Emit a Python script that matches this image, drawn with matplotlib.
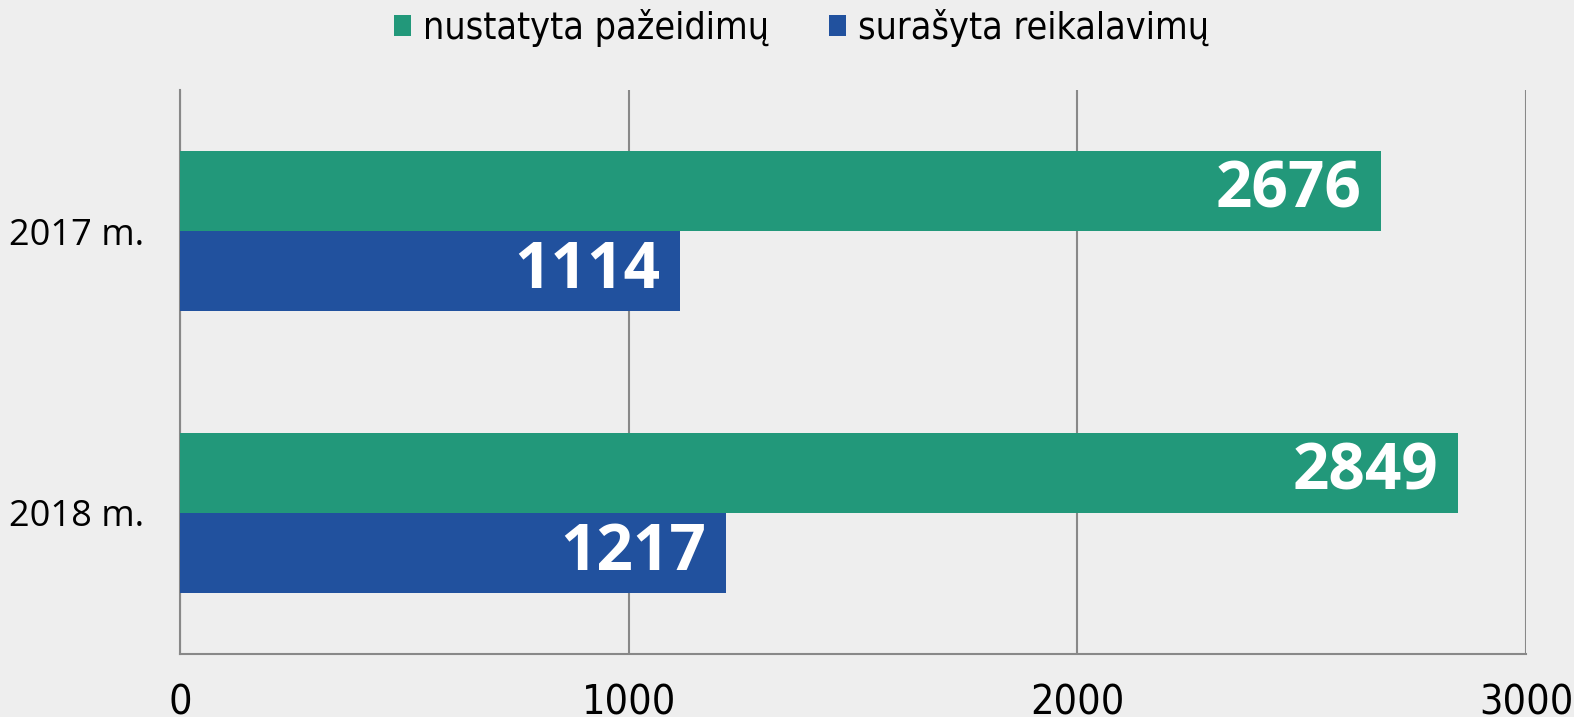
import matplotlib
matplotlib.use("Agg")
import matplotlib.pyplot as plt
from matplotlib import font_manager as fm
import numpy as np

categories = ["2017 m.", "2018 m."]
series_names = ["nustatyta pažeidimų", "surašyta reikalavimų"]
nustatyta = [2676, 2849]
surasyta = [1114, 1217]
xticks = [0, 1000, 2000, 3000]

green = "#22987A"
blue = "#21519E"
bg = "#EEEEEE"

# condensed font if available
cond = None
for f in fm.fontManager.ttflist:
    if "Condensed" in f.fname and "DejaVuSans" in f.fname and "Bold" not in f.fname and "Oblique" not in f.fname:
        cond = f.fname
        break
if cond:
    cond_fp = lambda size: fm.FontProperties(fname=cond, size=size)
else:
    cond_fp = lambda size: fm.FontProperties(family="DejaVu Sans", size=size)

fig = plt.figure(figsize=(15.74, 7.17), dpi=100, facecolor=bg)
ax = fig.add_axes([180/1574, 1-654/717, (1526-180)/1574, (654-90)/717])
ax.set_facecolor(bg)

y = np.arange(len(categories))
h = 0.284
b1 = ax.barh(y - h/2, nustatyta, height=h, color=green, label=series_names[0], zorder=3)
b2 = ax.barh(y + h/2, surasyta, height=h, color=blue, label=series_names[1], zorder=3)

for bars in (b1, b2):
    texts = ax.bar_label(bars, labels=[str(v) for v in bars.datavalues], padding=-14,
                         color="white", fontsize=46, fontweight="bold", family="Open Sans")
    for t in texts:
        t.set_ha("right")

ax.set_ylim(1.5, -0.5)
ax.set_xlim(0, 3000)
ax.set_xticks(xticks)
ax.set_xticklabels([str(t) for t in xticks])
for t in ax.get_xticklabels():
    t.set_fontproperties(cond_fp(29.5))
ax.set_yticks(y)
ax.set_yticklabels(categories, family="Open Sans", fontsize=26)
ax.tick_params(axis="x", length=0, pad=21)
ax.tick_params(axis="y", length=0, pad=26)
ax.grid(axis="x", color="#888888", linewidth=1.5, zorder=0)
for s in ["top", "right"]:
    ax.spines[s].set_visible(False)
for s in ["left", "bottom"]:
    ax.spines[s].set_color("#888888")
    ax.spines[s].set_linewidth(1.5)

fig.legend(loc="upper center", bbox_to_anchor=(0.509, 1.035), ncol=2, frameon=False,
           prop=cond_fp(27),
           handlelength=0.47, handleheight=0.47, handletextpad=0.3, columnspacing=1.6)

fig.savefig("out.png", dpi=100, facecolor=bg)
